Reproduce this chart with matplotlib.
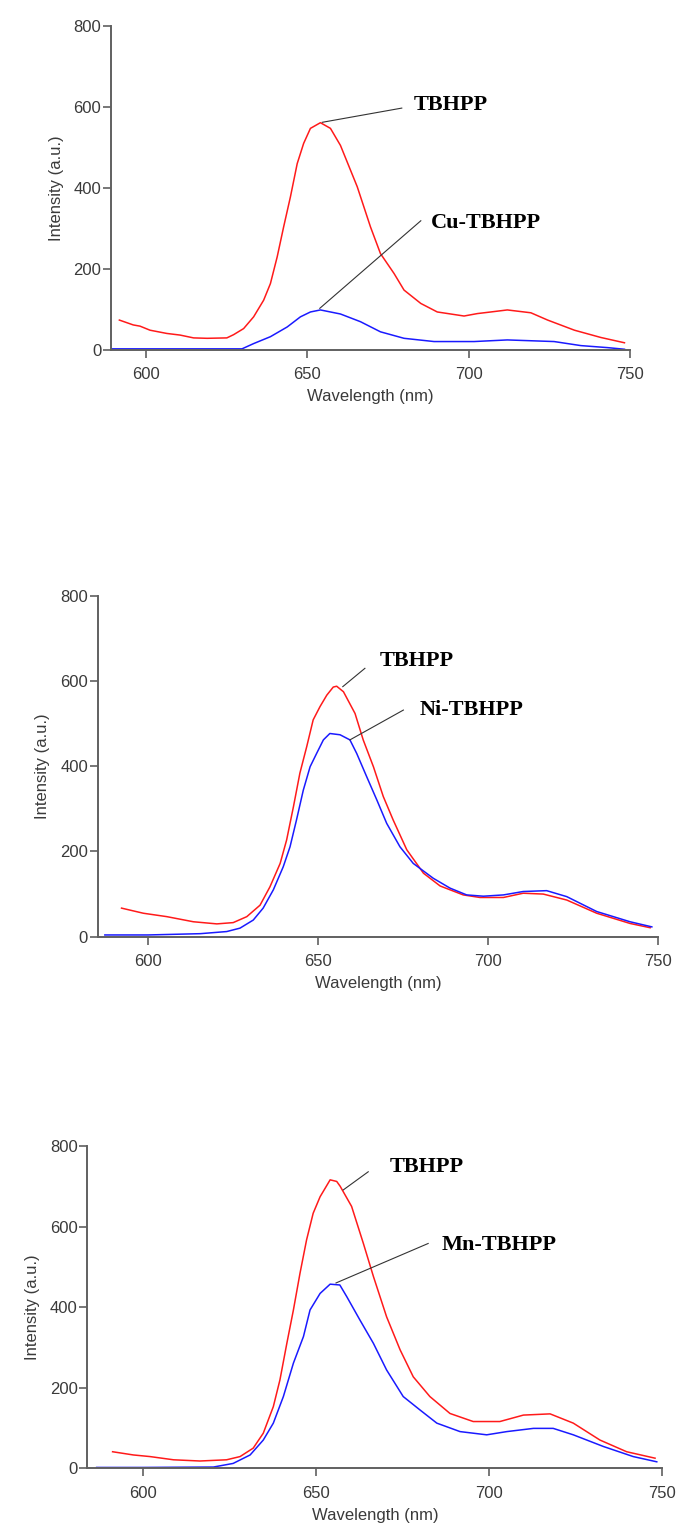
import matplotlib
matplotlib.use("Agg")
import matplotlib.pyplot as plt

# ---------------- data ----------------
# Panel 1: TBHPP vs Cu-TBHPP
p1_red_wl = [591.8, 596.1, 598.2, 601.3, 606.5, 610.6, 614.8, 619.0, 625.1, 627.2, 630.3, 633.4,
             636.5, 638.6, 640.7, 642.7, 644.8, 646.9, 648.9, 651.0, 654.1, 657.2, 660.3, 665.5,
             669.6, 672.7, 676.9, 680.0, 685.2, 690.3, 698.6, 702.7, 706.9, 712.0, 719.3, 724.5,
             732.8, 741.0, 748.3]
p1_red_int = [74, 62, 59, 49, 41, 37, 30, 29, 30, 38, 53, 82,
              123, 164, 230, 304, 378, 460, 510, 547, 561, 547, 505, 403,
              304, 238, 189, 148, 115, 94, 84, 90, 94, 99, 92, 74,
              49, 31, 18]
p1_blue_wl = [589.2, 600.0, 615.0, 629.8, 633.4, 638.6, 643.8, 647.9, 651.0, 654.1, 657.2, 660.3,
              666.5, 672.7, 680.0, 689.3, 701.7, 712.0, 726.5, 734.8, 743.1, 748.3]
p1_blue_int = [3, 3, 3, 3, 16, 33, 57, 82, 94, 99, 94, 89,
               70, 45, 29, 21, 21, 25, 21, 11, 6, 2]

# Panel 2: TBHPP vs Ni-TBHPP
p2_red_wl = [592.3, 598.7, 605.6, 613.4, 620.3, 625.1, 629.1, 633.0, 635.9, 638.9, 640.8, 642.8,
             644.7, 646.7, 648.6, 650.6, 652.6, 654.5, 655.5, 657.5, 660.9, 663.3, 666.3, 669.2,
             672.1, 676.1, 681.0, 685.9, 692.7, 697.6, 704.5, 710.3, 716.2, 723.1, 731.9, 741.7,
             747.6]
p2_red_int = [67, 55, 47, 35, 30, 33, 47, 74, 117, 172, 227, 305,
              384, 446, 509, 540, 567, 586, 588, 575, 524, 462, 399, 329,
              274, 204, 149, 119, 98, 92, 92, 102, 100, 86, 55, 31,
              21]
p2_blue_wl = [587.4, 600.0, 615.4, 623.2, 627.1, 631.0, 633.9, 636.9, 639.8, 641.8, 643.7, 645.7,
              647.7, 649.6, 651.6, 653.5, 656.5, 659.4, 661.4, 664.3, 667.3, 670.2, 674.1, 678.0,
              683.9, 688.8, 693.7, 698.6, 704.5, 710.3, 717.2, 723.1, 731.9, 741.7, 748.1]
p2_blue_int = [4, 4, 7, 12, 20, 39, 67, 110, 164, 211, 274, 344,
               399, 430, 462, 477, 474, 462, 430, 376, 321, 266, 211, 172,
               137, 114, 98, 95, 98, 106, 108, 94, 59, 35, 23]

# Panel 3: TBHPP vs Mn-TBHPP
p3_red_wl = [591.3, 597.3, 602.1, 608.9, 616.5, 624.2, 628.1, 631.9, 634.8, 637.7, 639.6, 641.6,
             643.5, 645.4, 647.3, 649.2, 651.2, 654.1, 656.0, 657.0, 660.3, 663.7, 666.6, 670.4,
             674.3, 678.1, 682.9, 688.7, 695.4, 703.1, 709.9, 717.6, 724.3, 732.0, 739.7, 747.9]
p3_red_int = [41, 33, 29, 21, 18, 21, 29, 50, 87, 153, 219, 310,
              393, 484, 567, 633, 674, 716, 712, 700, 650, 558, 476, 376,
              294, 227, 178, 136, 116, 116, 132, 135, 112, 70, 41, 25]
p3_blue_wl = [586.7, 600.0, 620.4, 626.1, 631.0, 634.8, 637.7, 640.6, 643.5, 646.4, 648.3, 651.2,
              654.1, 656.9, 658.9, 662.7, 666.6, 670.4, 675.2, 680.0, 684.9, 691.6, 699.3, 705.1,
              712.8, 718.5, 724.3, 733.0, 741.6, 748.4]
p3_blue_int = [2, 2, 3, 12, 33, 70, 112, 178, 261, 327, 393, 434,
               457, 455, 426, 368, 310, 244, 178, 145, 112, 91, 83, 91,
               99, 99, 83, 54, 29, 16]

x_ticks = [600, 650, 700, 750]
y_ticks = [0, 200, 400, 600, 800]
x_label = "Wavelength (nm)"
y_label = "Intensity (a.u.)"
free_label = "TBHPP"
metal_labels = ["Cu-TBHPP", "Ni-TBHPP", "Mn-TBHPP"]

# ---------------- layout / style ----------------
plt.rcParams['font.family'] = ['Liberation Sans', 'DejaVu Sans']
fig = plt.figure(figsize=(6.8, 15.28), dpi=100)

panels = [
    dict(rect=[0.1632, 0.7709, 0.7632, 0.2122], xlim=(589.2, 750),
         red=(p1_red_wl, p1_red_int), blue=(p1_blue_wl, p1_blue_int),
         lines=[((654.7, 562), (679.3, 597)), ((653.9, 103), (685.2, 319))],
         texts=[(682.9, 592), (688.3, 301)]),
    dict(rect=[0.1437, 0.3870, 0.8244, 0.2230], xlim=(585.3, 750),
         red=(p2_red_wl, p2_red_int), blue=(p2_blue_wl, p2_blue_int),
         lines=[((657.3, 587), (663.8, 630)), ((659.4, 462), (675.1, 532))],
         texts=[(668.2, 636), (679.8, 520)]),
    dict(rect=[0.1284, 0.0391, 0.8456, 0.2109], xlim=(584.0, 750),
         red=(p3_red_wl, p3_red_int), blue=(p3_blue_wl, p3_blue_int),
         lines=[((657.9, 691), (665.1, 736)), ((655.8, 460), (682.4, 558))],
         texts=[(671.4, 736), (686.3, 542)]),
]

axis_col = '#606060'
text_col = '#3a3a3a'

for i, p in enumerate(panels):
    ax = fig.add_axes(p['rect'])
    ax.plot(p['red'][0], p['red'][1], color='#ff1a1a', lw=1.1, solid_joinstyle='round')
    ax.plot(p['blue'][0], p['blue'][1], color='#1a1aff', lw=1.1, solid_joinstyle='round')
    ax.set_xlim(*p['xlim'])
    ax.set_ylim(0, 800)
    ax.set_xticks(x_ticks)
    ax.set_yticks(y_ticks)
    for s in ['top', 'right']:
        ax.spines[s].set_visible(False)
    for s in ['left', 'bottom']:
        ax.spines[s].set_color(axis_col)
        ax.spines[s].set_linewidth(1.4)
    ax.tick_params(axis='both', direction='out', length=5.5, width=1.2,
                   color=axis_col, labelcolor=text_col, labelsize=12)
    ax.tick_params(axis='x', pad=7)
    ax.tick_params(axis='y', pad=1.5)
    ax.set_xlabel(x_label, fontsize=12, color=text_col, labelpad=5)
    ax.set_ylabel(y_label, fontsize=12, color=text_col, labelpad=7)
    labels = [free_label, metal_labels[i]]
    for (a, b), (tx, ty), lab in zip(p['lines'], p['texts'], labels):
        ax.plot([a[0], b[0]], [a[1], b[1]], color='#333333', lw=0.8)
        ax.text(tx, ty, lab, fontsize=16, fontweight='bold', family='Liberation Serif',
                ha='left', va='baseline', color='black')

fig.savefig('out.png', dpi=100)
